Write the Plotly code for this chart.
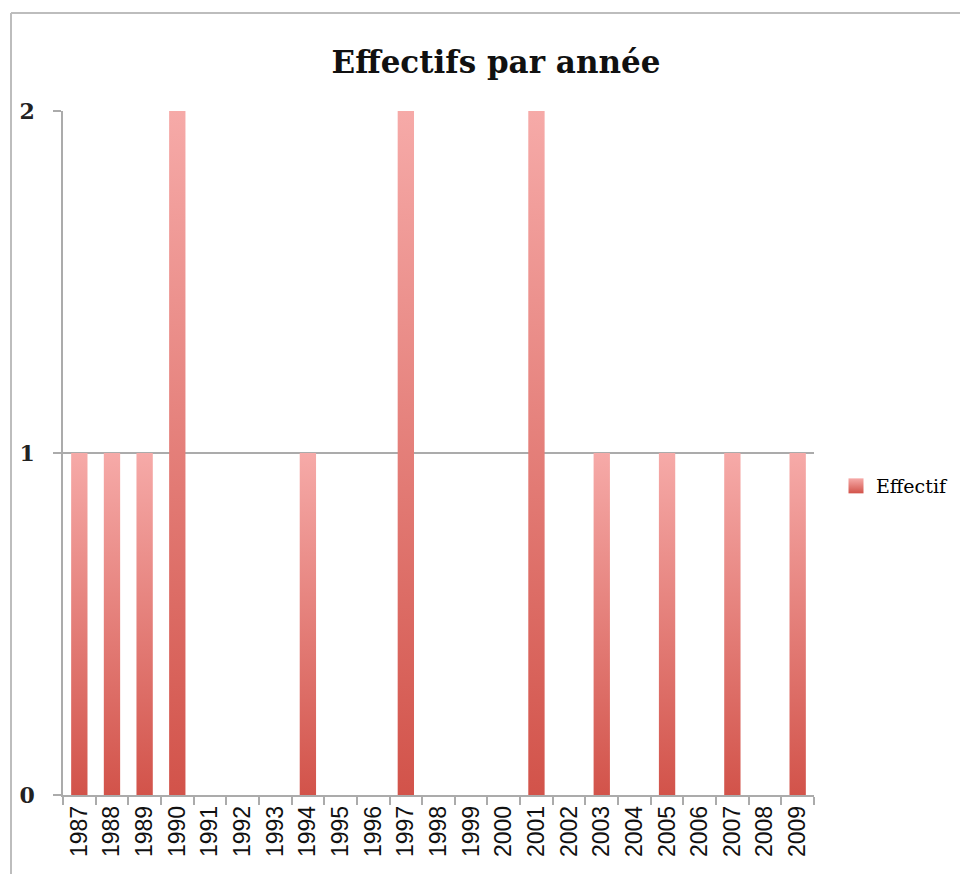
import plotly.graph_objects as go

years = [str(y) for y in range(1987, 2010)]
effectif = [1, 1, 1, 2, 0, 0, 0, 1, 0, 0, 2, 0, 0, 0, 2, 0, 1, 0, 1, 0, 1, 0, 1]
y_ticks = [0, 1, 2]
series_name = "Effectif"
title_text = "Effectifs par année"

LIGHT = "#F6AAA8"
DARK = "#D2534A"
GRID = "#ABABAB"
BAR_W = 0.5

OFF = 8  # default page body margin
PAGE_W, PAGE_H = 968, 874
W, H = PAGE_W - OFF, PAGE_H - OFF
# plot area in page pixels: x 63..814, y 111..795
L, R, T, B = 63 - OFF, PAGE_W - 814, 111 - OFF, PAGE_H - 795

fig = go.Figure()

for i, v in enumerate(effectif):
    if v <= 0:
        continue
    x0, x1 = i - BAR_W / 2, i + BAR_W / 2
    fig.add_trace(go.Scatter(
        x=[x0, x1, x1, x0, x0], y=[0, 0, v, v, 0],
        mode="lines", fill="toself", line=dict(width=0, color=DARK),
        fillgradient=dict(type="vertical", colorscale=[[0, DARK], [1, LIGHT]]),
        showlegend=False, hoverinfo="skip",
    ))

# legend entry
fig.add_trace(go.Scatter(
    x=[None], y=[None], mode="markers", name=series_name,
    marker=dict(symbol="square", size=15, color=LIGHT,
                gradient=dict(type="vertical", color=DARK), line=dict(width=0)),
))

n = len(years)
pw = W - L - R
ph = H - T - B
def px_x(p):  # page pixel -> paper
    return (p - OFF - L) / pw
def px_y(p):
    return (H - B - (p - OFF)) / ph

fig.add_shape(type="line", xref="paper", yref="paper",
              x0=px_x(11), x1=px_x(PAGE_W + 5), y0=px_y(13), y1=px_y(13),
              line=dict(color="#BDBDBD", width=2))
fig.add_shape(type="line", xref="paper", yref="paper",
              x0=px_x(11), x1=px_x(11), y0=px_y(13), y1=px_y(PAGE_H + 5),
              line=dict(color="#BDBDBD", width=2))

fig.update_layout(
    width=W, height=H,
    margin=dict(l=L, r=R, t=T, b=B),
    paper_bgcolor="white", plot_bgcolor="white",
    title=dict(text=f"<b>{title_text}</b>", xref="container", yref="container",
               x=(496 - OFF) / W, y=1 - (62 - OFF) / H, xanchor="center", yanchor="middle",
               font=dict(family="DejaVu Serif", size=31, color="#111111")),
    showlegend=True,
    legend=dict(x=px_x(836), y=px_y(486), xanchor="left", yanchor="middle",
                font=dict(family="DejaVu Serif", size=19, color="#000000"),
                bgcolor="rgba(0,0,0,0)", itemwidth=30),
    xaxis=dict(
        range=[-0.5, n - 0.5], tickmode="array",
        tickvals=list(range(n)), ticktext=years, tickangle=-90,
        ticks="", showgrid=False, zeroline=False,
        showline=True, linecolor=GRID, linewidth=1.5,
        tickfont=dict(family="Liberation Sans", size=23, color="#111111"),
        minor=dict(tickmode="array", tickvals=[i - 0.5 for i in range(n + 1)],
                   ticks="outside", ticklen=8, tickcolor=GRID, tickwidth=1.5,
                   showgrid=False),
        fixedrange=True,
    ),
    yaxis=dict(
        range=[0, 2], tickmode="array", tickvals=y_ticks,
        ticktext=[str(t) for t in y_ticks],
        ticks="outside", ticklen=8, tickcolor=GRID, tickwidth=1.5,
        showgrid=True, gridcolor=GRID, gridwidth=1.5, zeroline=False,
        showline=True, linecolor=GRID, linewidth=1.5,
        ticklabelstandoff=14,
        tickfont=dict(family="DejaVu Serif", size=22, color="#222222", weight="bold"),
        fixedrange=True,
    ),
)

fig.write_html("out.html")
